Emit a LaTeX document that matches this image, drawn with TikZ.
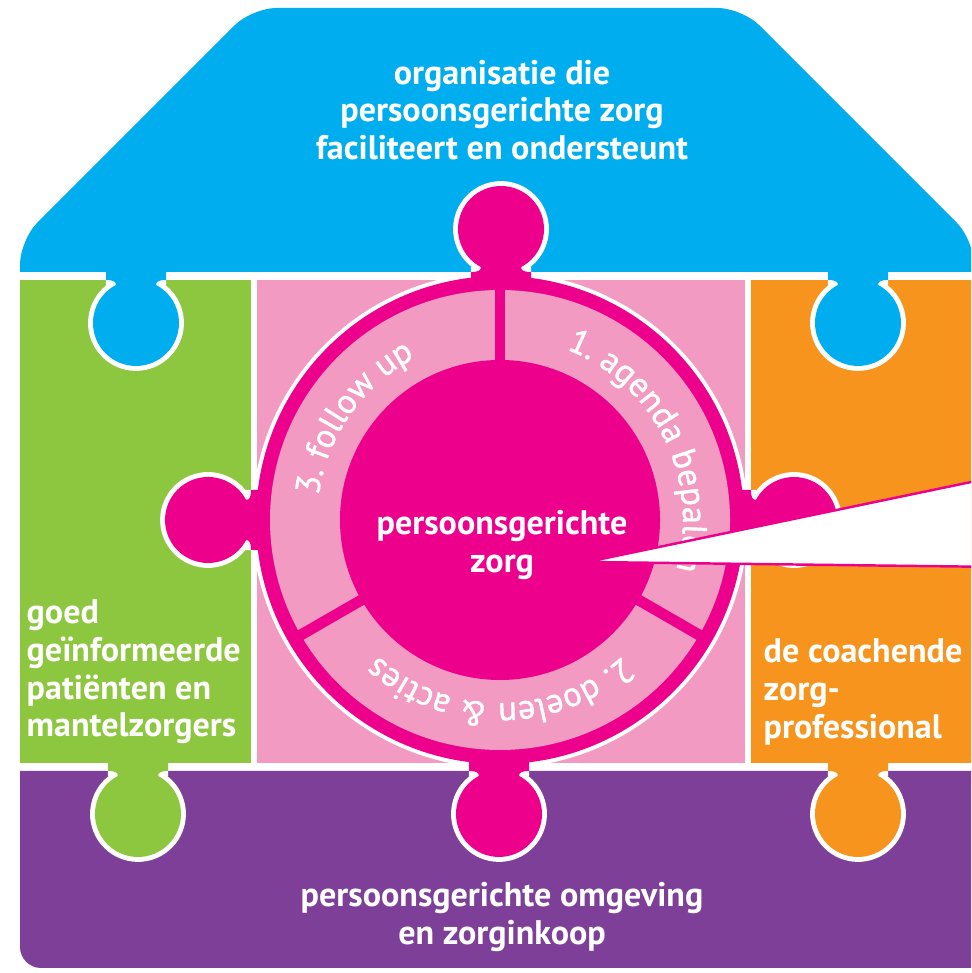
\documentclass[tikz,border=0pt]{standalone}
\usepackage{fontspec}
\setmainfont{PT Sans}
\newfontfamily\ringfont[FakeBold=1.2]{PT Sans}
\usetikzlibrary{decorations.text}

\definecolor{blauw}{HTML}{00AEEF}
\definecolor{groen}{HTML}{8DC63F}
\definecolor{oranje}{HTML}{F7941D}
\definecolor{paars}{HTML}{7D3F98}
\definecolor{roze}{HTML}{EC008C}
\definecolor{lichtroze}{HTML}{F29AC2}

\begin{document}
\begin{tikzpicture}[x=0.1mm, y=0.1mm,
    tekst/.style={text=white, font=\bfseries\fontsize{9.7}{10.7}\selectfont, inner sep=0pt},
    nokrand/.style={white, line width=2.8pt},
    deler/.style={roze, line width=3.1pt}]
    % 0. Kader
    \fill[white] (0,0) rectangle (971,973);
    \useasboundingbox (0,0) rectangle (971,973);
    \clip (0,0) rectangle (971,973);

    % 1. Stukken van het huis
    \fill[blauw] (20,701) [rounded corners=7pt] -- (20,733) -- (252,965) -- (742,965) -- (974,733) [sharp corners] -- (974,701) -- cycle;
    \fill[groen] (20,210) rectangle (251,693);
    \fill[lichtroze] (257,210) rectangle (745,693);
    \fill[oranje] (751,210) rectangle (990,693);
    \fill[paars] (20,202) [rounded corners=6pt] -- (20,5) -- (990,5) [sharp corners] -- (990,202) -- cycle;

    % 2. Nokken van de buitenste stukken
    \foreach \x/\y/\kleur in {136/693/blauw, 858/693/blauw, 138/202/groen, 858/202/oranje} {
        \begin{scope}[shift={(\x,\y)}]
            \draw[nokrand] (-30,0) .. controls (-22,0) and (-20,-2) .. (-20.2,-5)
                arc[start angle=118, end angle=422, radius=43] .. controls (20,-2) and (22,0) .. (30,0);
            \fill[\kleur] (-30,14) -- (-30,0) .. controls (-22,0) and (-20,-2) .. (-20.2,-5)
                arc[start angle=118, end angle=422, radius=43] .. controls (20,-2) and (22,0) .. (30,0) -- (30,14) -- cycle;
        \end{scope}
    }

    % 3. Cirkel met de vier roze nokken
    \foreach \x/\y/\hoek in {501/701/180, 499/202/0, 251/453/-90, 751/453/90} {
        \begin{scope}[shift={(\x,\y)}, rotate=\hoek]
            \draw[nokrand] (-30,0) .. controls (-22,0) and (-20,-2) .. (-20.2,-5)
                arc[start angle=118, end angle=422, radius=43] .. controls (20,-2) and (22,0) .. (30,0);
        \end{scope}
    }
    \fill[white] (500,453) circle[radius=248];
    \fill[roze] (500,453) circle[radius=244];
    \foreach \x/\y/\hoek in {501/701/180, 499/202/0, 251/453/-90, 751/453/90} {
        \begin{scope}[shift={(\x,\y)}, rotate=\hoek]
            \fill[roze] (-30,14) -- (-30,0) .. controls (-22,0) and (-20,-2) .. (-20.2,-5)
                arc[start angle=118, end angle=422, radius=43] .. controls (20,-2) and (22,0) .. (30,0) -- (30,14) -- cycle;
        \end{scope}
    }
    \fill[lichtroze] (500,453) circle[radius=230];
    \fill[roze] (500,453) circle[radius=160];
    \foreach \hoek in {90,-30,210}
        \draw[deler] (500,453) ++(\hoek:155) -- ++(\hoek:80);

    % 4. Stappen langs de ring
    \path[decorate, decoration={text along path, text align=center,
        text={|\color{white}\ringfont\fontsize{9.8}{11}\selectfont|1. agenda bepalen}}]
        (500,453) ++(96.5:183) arc[start angle=96.5, end angle=-43.5, radius=183];
    \path[decorate, decoration={text along path, text align=center,
        text={|\color{white}\ringfont\fontsize{9.8}{11}\selectfont|2. doelen {\&} acties}}]
        (500,453) ++(-30:183) arc[start angle=-30, end angle=-150, radius=183];
    \path[decorate, decoration={text along path, text align=center,
        text={|\color{white}\ringfont\fontsize{9.8}{11}\selectfont|3. follow up}}]
        (500,453) ++(205:183) arc[start angle=205, end angle=85, radius=183];

    % 5. Teksten
    \node[tekst, align=center] (dak) at (502,863) {organisatie die\\persoonsgerichte zorg\\faciliteert en ondersteunt};
    \node[tekst, align=left, anchor=west] (patienten) at (26,301) {goed\\geïnformeerde\\patiënten en\\mantelzorgers};
    \node[tekst, align=left, anchor=west] (professional) at (763,281) {de coachende\\zorg-\\professional};
    \node[tekst, align=center] (omgeving) at (502,56) {persoonsgerichte omgeving\\en zorginkoop};
    \node[tekst, align=center] (kern) at (502,428) {persoonsgerichte\\zorg};

    % 6. Wijzer naar rechts
    \filldraw[fill=white, draw=roze, line width=0.7pt] (587,411) -- (1000,497) -- (1000,406) -- cycle;
\end{tikzpicture}
\end{document}
